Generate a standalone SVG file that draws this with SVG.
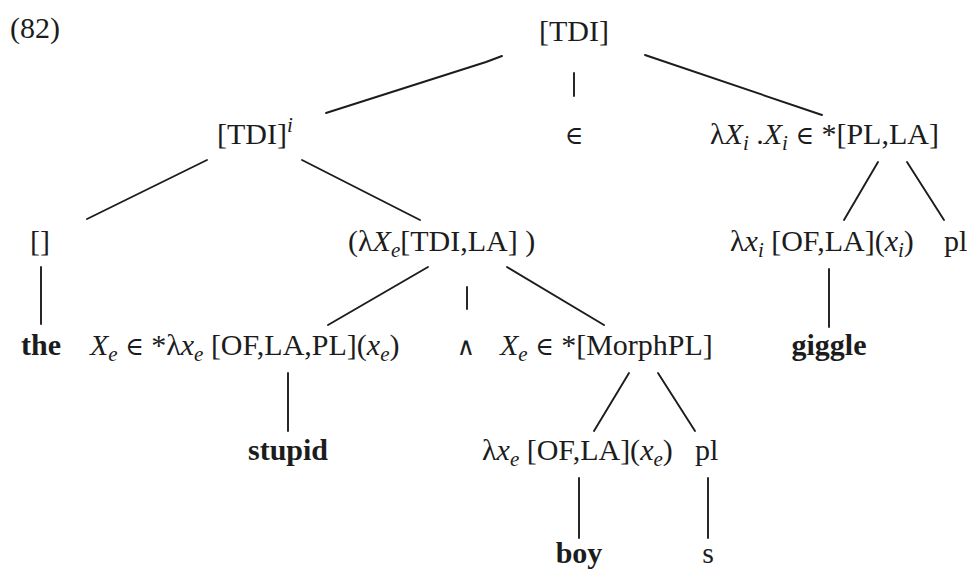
<svg xmlns="http://www.w3.org/2000/svg" width="970" height="569" viewBox="0 0 970 569">
  <style>
    text { font-family: "Liberation Serif", "DejaVu Serif", serif; font-size: 30px; fill: #1c1c1c; }
    .b { font-weight: bold; }
    .it { font-style: italic; }
    .sub { font-style: italic; font-size: 21px; }
    .op { font-family: "DejaVu Serif", serif; font-size: 25px; }
    .edge { stroke: #1c1c1c; stroke-width: 1.9; fill: none; stroke-linecap: round; stroke-linejoin: round; }
  </style>
  <rect width="970" height="569" fill="#ffffff"/>

  <!-- tree branches -->
  <g id="connectors">
    <polyline class="edge" points="502,56 486,62 326,113"/>
    <line class="edge" x1="574" y1="73" x2="574" y2="96"/>
    <line class="edge" x1="645" y1="55" x2="822" y2="115"/>
    <line class="edge" x1="207" y1="160" x2="87" y2="219"/>
    <line class="edge" x1="302" y1="160" x2="420" y2="220"/>
    <line class="edge" x1="878" y1="162" x2="844" y2="220"/>
    <line class="edge" x1="907" y1="162" x2="944" y2="220"/>
    <line class="edge" x1="41" y1="267" x2="41" y2="324"/>
    <line class="edge" x1="428" y1="267" x2="328" y2="325"/>
    <line class="edge" x1="467" y1="287" x2="467" y2="309"/>
    <line class="edge" x1="507" y1="267" x2="604" y2="325"/>
    <line class="edge" x1="829" y1="269" x2="829" y2="327"/>
    <line class="edge" x1="288" y1="373" x2="288" y2="431"/>
    <line class="edge" x1="629" y1="373" x2="594" y2="431"/>
    <line class="edge" x1="658" y1="373" x2="695" y2="431"/>
    <line class="edge" x1="579" y1="478" x2="579" y2="538"/>
    <line class="edge" x1="708" y1="478" x2="708" y2="538"/>
  </g>

  <g id="label-82"><text x="10" y="38" font-size="31">(82)</text></g>

  <g id="n-root"><text x="574" y="41" text-anchor="middle">[TDI]</text></g>

  <g id="n-tdi-i"><text x="217" y="144">[TDI]<tspan class="it" font-size="21" dy="-12">i</tspan></text></g>

  <g id="n-in"><text class="op" x="574" y="144" text-anchor="middle">∈</text></g>

  <g id="n-lambda-Xi"><text x="710" y="144">λ<tspan class="it">X</tspan><tspan class="sub" dy="6">i</tspan><tspan dy="-6"> .</tspan><tspan class="it">X</tspan><tspan class="sub" dy="6">i</tspan><tspan dy="-6"> </tspan><tspan class="op">∈</tspan><tspan> *[PL,LA]</tspan></text></g>

  <g id="n-empty"><text x="40" y="251" text-anchor="middle">[]</text></g>

  <g id="n-lambda-Xe"><text x="348" y="251">(λ<tspan class="it">X</tspan><tspan class="sub" dy="6">e</tspan><tspan dy="-6">[TDI,LA] )</tspan></text></g>

  <g id="n-lambda-xi"><text x="730" y="251">λ<tspan class="it">x</tspan><tspan class="sub" dy="6">i</tspan><tspan dy="-6"> [OF,LA](</tspan><tspan class="it">x</tspan><tspan class="sub" dy="6">i</tspan><tspan dy="-6">)</tspan></text></g>

  <g id="n-pl-top"><text x="944" y="251">pl</text></g>

  <g id="n-the"><text class="b" x="21" y="355">the</text></g>

  <g id="n-stupid-pred"><text x="90" y="355"><tspan class="it">X</tspan><tspan class="sub" dy="6">e</tspan><tspan dy="-6"> </tspan><tspan class="op">∈</tspan><tspan> *λ</tspan><tspan class="it">x</tspan><tspan class="sub" dy="6">e</tspan><tspan dy="-6"> [OF,LA,PL](</tspan><tspan class="it">x</tspan><tspan class="sub" dy="6">e</tspan><tspan dy="-6">)</tspan></text></g>

  <g id="n-and"><text class="op" x="466" y="355" text-anchor="middle" font-size="22">∧</text></g>

  <g id="n-morph"><text x="500" y="355"><tspan class="it">X</tspan><tspan class="sub" dy="6">e</tspan><tspan dy="-6"> </tspan><tspan class="op">∈</tspan><tspan> *[MorphPL]</tspan></text></g>

  <g id="n-giggle"><text class="b" x="829" y="355" text-anchor="middle">giggle</text></g>

  <g id="n-stupid"><text class="b" x="288" y="460" text-anchor="middle">stupid</text></g>

  <g id="n-lambda-xe"><text x="482" y="460">λ<tspan class="it">x</tspan><tspan class="sub" dy="6">e</tspan><tspan dy="-6"> [OF,LA](</tspan><tspan class="it">x</tspan><tspan class="sub" dy="6">e</tspan><tspan dy="-6">)</tspan></text></g>

  <g id="n-pl-low"><text x="695" y="460">pl</text></g>

  <g id="n-boy"><text class="b" x="579" y="563" text-anchor="middle">boy</text></g>

  <g id="n-s"><text x="708" y="563" text-anchor="middle">s</text></g>
</svg>
